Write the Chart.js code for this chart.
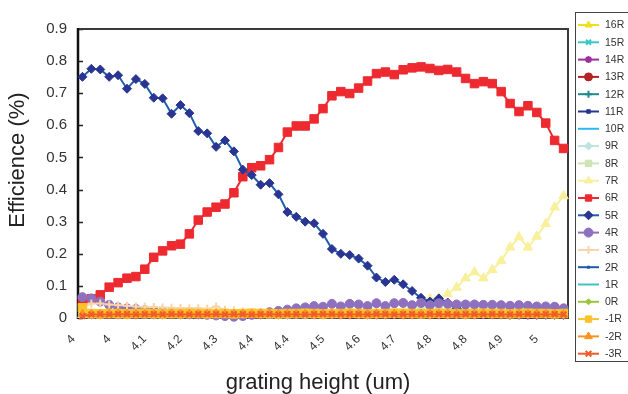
<!DOCTYPE html>
<html>
<head>
<meta charset="utf-8">
<script src="https://cdn.jsdelivr.net/npm/chart.js@4.4.0/dist/chart.umd.min.js"></script>
<style>
  html, body { margin: 0; padding: 0; background: #fff; }
  #wrap { width: 628px; height: 394px; }
</style>
</head>
<body>
<div id="wrap"><canvas id="effChart" width="628" height="394"></canvas></div>
<script>
// grating height sweep (um)
var heights = [3.96, 3.98, 4.00, 4.02, 4.04, 4.06, 4.08, 4.10, 4.12, 4.14,
               4.16, 4.18, 4.20, 4.22, 4.24, 4.26, 4.28, 4.30, 4.32, 4.34,
               4.36, 4.38, 4.40, 4.42, 4.44, 4.46, 4.48, 4.50, 4.52, 4.54,
               4.56, 4.58, 4.60, 4.62, 4.64, 4.66, 4.68, 4.70, 4.72, 4.74,
               4.76, 4.78, 4.80, 4.82, 4.84, 4.86, 4.88, 4.90, 4.92, 4.94,
               4.96, 4.98, 5.00, 5.02, 5.04];

var tickValues = [3.96, 4.04, 4.12, 4.20, 4.28, 4.36, 4.44, 4.52, 4.60, 4.68, 4.76, 4.84, 4.92, 5.00];
var tickLabels = ['4', '4', '4.1', '4.2', '4.3', '4.4', '4.4', '4.5', '4.6', '4.7', '4.8', '4.8', '4.9', '5'];
var yTickValues = [0, 0.1, 0.2, 0.3, 0.4, 0.5, 0.6, 0.7, 0.8, 0.9];
var yTickLabels = ['0', '0.1', '0.2', '0.3', '0.4', '0.5', '0.6', '0.7', '0.8', '0.9'];

var orderNames = ['16R', '15R', '14R', '13R', '12R', '11R', '10R', '9R', '8R', '7R',
                  '6R', '5R', '4R', '3R', '2R', '1R', '0R', '-1R', '-2R', '-3R'];

// diffraction efficiency per order
var r16 = [0.012, 0.011, 0.011, 0.010, 0.011, 0.011, 0.010, 0.011, 0.011, 0.010,
           0.011, 0.011, 0.010, 0.011, 0.011, 0.010, 0.011, 0.011, 0.010, 0.011,
           0.011, 0.010, 0.011, 0.011, 0.010, 0.011, 0.011, 0.010, 0.011, 0.011,
           0.010, 0.011, 0.011, 0.010, 0.011, 0.011, 0.010, 0.011, 0.011, 0.010,
           0.011, 0.011, 0.010, 0.011, 0.011, 0.010, 0.011, 0.011, 0.010, 0.011,
           0.011, 0.010, 0.011, 0.011, 0.010];
var r15 = [0.010, 0.010, 0.011, 0.010, 0.010, 0.010, 0.011, 0.010, 0.010, 0.010,
           0.010, 0.011, 0.010, 0.010, 0.010, 0.010, 0.011, 0.010, 0.010, 0.010,
           0.011, 0.010, 0.010, 0.010, 0.010, 0.011, 0.010, 0.010, 0.010, 0.010,
           0.011, 0.010, 0.010, 0.010, 0.011, 0.010, 0.010, 0.010, 0.010, 0.011,
           0.010, 0.010, 0.010, 0.011, 0.010, 0.010, 0.010, 0.010, 0.011, 0.010,
           0.010, 0.010, 0.011, 0.010, 0.010];
var r14 = [0.010, 0.011, 0.010, 0.010, 0.010, 0.011, 0.010, 0.010, 0.011, 0.010,
           0.010, 0.010, 0.011, 0.010, 0.010, 0.011, 0.010, 0.010, 0.010, 0.011,
           0.010, 0.010, 0.011, 0.010, 0.010, 0.010, 0.011, 0.010, 0.010, 0.011,
           0.010, 0.010, 0.010, 0.011, 0.010, 0.010, 0.011, 0.010, 0.010, 0.010,
           0.011, 0.010, 0.010, 0.011, 0.010, 0.010, 0.010, 0.011, 0.010, 0.010,
           0.011, 0.010, 0.010, 0.010, 0.011];
var r13 = [0.011, 0.010, 0.010, 0.011, 0.010, 0.010, 0.010, 0.011, 0.010, 0.010,
           0.011, 0.010, 0.010, 0.010, 0.011, 0.010, 0.010, 0.011, 0.010, 0.010,
           0.010, 0.011, 0.010, 0.010, 0.011, 0.010, 0.010, 0.010, 0.011, 0.010,
           0.010, 0.011, 0.010, 0.010, 0.010, 0.011, 0.010, 0.010, 0.011, 0.010,
           0.010, 0.010, 0.011, 0.010, 0.010, 0.011, 0.010, 0.010, 0.010, 0.011,
           0.010, 0.010, 0.011, 0.010, 0.010];
var r12 = [0.012, 0.011, 0.011, 0.012, 0.011, 0.011, 0.012, 0.011, 0.011, 0.011,
           0.012, 0.011, 0.011, 0.012, 0.011, 0.011, 0.011, 0.012, 0.011, 0.011,
           0.012, 0.011, 0.011, 0.011, 0.012, 0.011, 0.011, 0.012, 0.011, 0.011,
           0.011, 0.012, 0.011, 0.011, 0.012, 0.011, 0.011, 0.011, 0.012, 0.011,
           0.011, 0.012, 0.011, 0.011, 0.011, 0.012, 0.011, 0.011, 0.012, 0.011,
           0.011, 0.011, 0.012, 0.011, 0.011];
var r11 = [0.012, 0.011, 0.011, 0.012, 0.011, 0.011, 0.011, 0.012, 0.011, 0.011,
           0.012, 0.011, 0.011, 0.011, 0.012, 0.011, 0.011, 0.012, 0.011, 0.011,
           0.011, 0.012, 0.011, 0.011, 0.012, 0.011, 0.011, 0.011, 0.012, 0.011,
           0.011, 0.012, 0.011, 0.011, 0.011, 0.012, 0.011, 0.011, 0.012, 0.011,
           0.011, 0.011, 0.012, 0.011, 0.011, 0.012, 0.011, 0.011, 0.011, 0.012,
           0.011, 0.011, 0.012, 0.011, 0.011];
var r10 = [0.010, 0.010, 0.011, 0.010, 0.010, 0.010, 0.011, 0.010, 0.010, 0.010,
           0.011, 0.010, 0.010, 0.010, 0.011, 0.010, 0.010, 0.010, 0.011, 0.010,
           0.010, 0.010, 0.011, 0.010, 0.010, 0.010, 0.011, 0.010, 0.010, 0.010,
           0.011, 0.010, 0.010, 0.010, 0.011, 0.010, 0.010, 0.010, 0.011, 0.010,
           0.010, 0.010, 0.011, 0.010, 0.010, 0.010, 0.011, 0.010, 0.010, 0.010,
           0.011, 0.010, 0.010, 0.010, 0.011];
var r9 = [0.013, 0.012, 0.012, 0.013, 0.012, 0.012, 0.012, 0.013, 0.012, 0.012,
          0.013, 0.012, 0.012, 0.012, 0.013, 0.012, 0.012, 0.013, 0.012, 0.012,
          0.012, 0.013, 0.012, 0.012, 0.013, 0.012, 0.012, 0.012, 0.013, 0.012,
          0.012, 0.013, 0.012, 0.012, 0.012, 0.013, 0.012, 0.012, 0.013, 0.012,
          0.012, 0.012, 0.013, 0.012, 0.012, 0.013, 0.012, 0.012, 0.012, 0.013,
          0.012, 0.012, 0.013, 0.012, 0.012];
var r8 = [0.012, 0.011, 0.011, 0.012, 0.011, 0.011, 0.012, 0.011, 0.011, 0.011,
          0.012, 0.011, 0.011, 0.012, 0.011, 0.011, 0.011, 0.012, 0.011, 0.011,
          0.012, 0.011, 0.011, 0.011, 0.012, 0.011, 0.012, 0.012, 0.013, 0.013,
          0.014, 0.014, 0.015, 0.016, 0.017, 0.018, 0.019, 0.021, 0.023, 0.024,
          0.025, 0.026, 0.027, 0.028, 0.028, 0.029, 0.029, 0.030, 0.030, 0.029,
          0.029, 0.028, 0.028, 0.027, 0.026];
var r7 = [0.010, 0.011, 0.010, 0.010, 0.011, 0.010, 0.010, 0.010, 0.011, 0.010,
          0.010, 0.011, 0.010, 0.010, 0.010, 0.011, 0.010, 0.010, 0.011, 0.010,
          0.010, 0.010, 0.011, 0.010, 0.011, 0.011, 0.011, 0.011, 0.011, 0.011,
          0.011, 0.011, 0.012, 0.013, 0.016, 0.020, 0.026, 0.034, 0.044, 0.060,
          0.062, 0.075, 0.095, 0.124, 0.143, 0.124, 0.150, 0.178, 0.220, 0.252,
          0.220, 0.254, 0.293, 0.345, 0.380];
var r6 = [0.051, 0.060, 0.072, 0.096, 0.110, 0.124, 0.129, 0.152, 0.189, 0.209,
          0.225, 0.230, 0.262, 0.305, 0.330, 0.345, 0.355, 0.390, 0.440, 0.468,
          0.474, 0.493, 0.531, 0.579, 0.598, 0.598, 0.620, 0.652, 0.692, 0.705,
          0.699, 0.716, 0.738, 0.761, 0.766, 0.758, 0.773, 0.779, 0.782, 0.777,
          0.771, 0.774, 0.766, 0.746, 0.730, 0.736, 0.730, 0.705, 0.668, 0.643,
          0.661, 0.640, 0.607, 0.553, 0.528];
var r5 = [0.751, 0.776, 0.774, 0.751, 0.756, 0.714, 0.744, 0.729, 0.686, 0.684,
          0.636, 0.663, 0.638, 0.582, 0.575, 0.533, 0.553, 0.519, 0.462, 0.445,
          0.415, 0.420, 0.385, 0.330, 0.315, 0.300, 0.295, 0.262, 0.215, 0.200,
          0.196, 0.185, 0.163, 0.126, 0.112, 0.119, 0.105, 0.084, 0.063, 0.051,
          0.061, 0.048, 0.030, 0.020, 0.015, 0.012, 0.011, 0.011, 0.010, 0.010,
          0.010, 0.010, 0.010, 0.010, 0.010];
var r4 = [0.065, 0.061, 0.051, 0.041, 0.033, 0.030, 0.028, 0.024, 0.022, 0.020,
          0.018, 0.016, 0.014, 0.012, 0.010, 0.008, 0.006, 0.004, 0.006, 0.010,
          0.014, 0.018, 0.022, 0.026, 0.030, 0.033, 0.037, 0.035, 0.044, 0.036,
          0.044, 0.042, 0.037, 0.046, 0.037, 0.046, 0.047, 0.040, 0.047, 0.040,
          0.046, 0.044, 0.042, 0.042, 0.042, 0.041, 0.041, 0.040, 0.038, 0.040,
          0.038, 0.036, 0.036, 0.035, 0.030];
var r3 = [0.030, 0.045, 0.045, 0.042, 0.040, 0.038, 0.036, 0.035, 0.034, 0.033,
          0.032, 0.031, 0.030, 0.030, 0.029, 0.036, 0.026, 0.024, 0.020, 0.017,
          0.015, 0.013, 0.012, 0.011, 0.011, 0.011, 0.011, 0.011, 0.011, 0.011,
          0.011, 0.011, 0.011, 0.011, 0.011, 0.011, 0.011, 0.011, 0.011, 0.011,
          0.011, 0.011, 0.011, 0.011, 0.011, 0.011, 0.011, 0.011, 0.011, 0.011,
          0.011, 0.011, 0.011, 0.011, 0.011];
var r2 = [0.012, 0.012, 0.012, 0.013, 0.013, 0.013, 0.013, 0.013, 0.013, 0.014,
          0.014, 0.014, 0.014, 0.014, 0.015, 0.015, 0.015, 0.016, 0.016, 0.016,
          0.016, 0.017, 0.017, 0.017, 0.018, 0.018, 0.018, 0.019, 0.019, 0.019,
          0.020, 0.020, 0.020, 0.020, 0.019, 0.019, 0.019, 0.018, 0.018, 0.017,
          0.017, 0.016, 0.016, 0.015, 0.015, 0.014, 0.014, 0.013, 0.013, 0.013,
          0.012, 0.012, 0.012, 0.012, 0.012];
var r1 = [0.011, 0.011, 0.012, 0.011, 0.011, 0.011, 0.012, 0.011, 0.011, 0.011,
          0.012, 0.011, 0.011, 0.011, 0.012, 0.011, 0.011, 0.011, 0.012, 0.011,
          0.011, 0.011, 0.012, 0.011, 0.011, 0.011, 0.012, 0.011, 0.011, 0.011,
          0.012, 0.011, 0.011, 0.011, 0.012, 0.011, 0.011, 0.011, 0.012, 0.011,
          0.011, 0.011, 0.012, 0.011, 0.011, 0.011, 0.012, 0.011, 0.011, 0.011,
          0.012, 0.011, 0.011, 0.011, 0.012];
var r0 = [0.011, 0.011, 0.012, 0.011, 0.011, 0.011, 0.012, 0.011, 0.011, 0.012,
          0.011, 0.011, 0.011, 0.012, 0.011, 0.011, 0.012, 0.011, 0.011, 0.011,
          0.012, 0.011, 0.011, 0.012, 0.011, 0.011, 0.011, 0.012, 0.011, 0.011,
          0.012, 0.011, 0.011, 0.011, 0.012, 0.011, 0.011, 0.012, 0.011, 0.011,
          0.011, 0.012, 0.011, 0.011, 0.012, 0.011, 0.011, 0.011, 0.012, 0.011,
          0.011, 0.012, 0.011, 0.011, 0.011];
var rm1 = [0.032, 0.014, 0.013, 0.014, 0.014, 0.013, 0.014, 0.015, 0.014, 0.013,
           0.014, 0.014, 0.015, 0.014, 0.013, 0.014, 0.014, 0.013, 0.014, 0.015,
           0.014, 0.014, 0.013, 0.014, 0.014, 0.015, 0.014, 0.013, 0.014, 0.014,
           0.015, 0.014, 0.013, 0.014, 0.014, 0.015, 0.014, 0.014, 0.013, 0.014,
           0.015, 0.014, 0.014, 0.013, 0.014, 0.015, 0.014, 0.014, 0.013, 0.014,
           0.015, 0.014, 0.014, 0.013, 0.014];
var rm2 = [0.012, 0.012, 0.011, 0.012, 0.013, 0.012, 0.012, 0.011, 0.012, 0.012,
           0.013, 0.012, 0.012, 0.011, 0.012, 0.013, 0.012, 0.012, 0.012, 0.011,
           0.012, 0.013, 0.012, 0.012, 0.011, 0.012, 0.012, 0.013, 0.012, 0.012,
           0.011, 0.012, 0.012, 0.013, 0.012, 0.012, 0.011, 0.012, 0.012, 0.013,
           0.012, 0.012, 0.011, 0.012, 0.012, 0.013, 0.012, 0.012, 0.011, 0.012,
           0.012, 0.013, 0.012, 0.012, 0.011];
var rm3 = [0.006, 0.011, 0.012, 0.011, 0.012, 0.012, 0.011, 0.012, 0.012, 0.011,
           0.012, 0.012, 0.011, 0.012, 0.012, 0.012, 0.011, 0.012, 0.012, 0.011,
           0.012, 0.012, 0.011, 0.012, 0.012, 0.011, 0.012, 0.012, 0.012, 0.011,
           0.012, 0.012, 0.011, 0.012, 0.012, 0.011, 0.012, 0.012, 0.011, 0.012,
           0.012, 0.012, 0.011, 0.012, 0.012, 0.011, 0.012, 0.012, 0.011, 0.012,
           0.012, 0.011, 0.012, 0.012, 0.011];

var orderValues = [r16, r15, r14, r13, r12, r11, r10, r9, r8, r7,
                   r6, r5, r4, r3, r2, r1, r0, rm1, rm2, rm3];

// line colour, marker colour, marker shape, marker radius, line width
var orderStyles = [
    ['#efe01f', '#efe01f', 'triangle', 4, 1.5],
    ['#3cc6c6', '#3cc6c6', 'crossRot', 3.5, 1.5],
    ['#9b2f9b', '#9b2f9b', 'star', 3.5, 1.5],
    ['#b22323', '#b22323', 'circle', 4, 1.5],
    ['#1f8a8a', '#1f8a8a', 'cross', 3.5, 1.5],
    ['#283593', '#283593', 'rect', 2.5, 1.5],
    ['#2cb8f0', '#2cb8f0', 'circle', 0, 1.5],
    ['#bfe3e0', '#bfe3e0', 'rectRot', 4, 1.5],
    ['#cde4b4', '#cde4b4', 'rect', 5, 1.5],
    ['#f8f09c', '#f8f09c', 'triangle', 5.5, 2],
    ['#ed2a30', '#ed2a30', 'rect', 6, 2],
    ['#1f5fae', '#2a3592', 'rectRot', 4.5, 2],
    ['#8f70bf', '#8f70bf', 'circle', 4.5, 1.5],
    ['#f9d4a8', '#f9d4a8', 'cross', 4, 1.5],
    ['#1e5aa8', '#1e5aa8', 'rect', 1.5, 2],
    ['#40c2c2', '#40c2c2', 'circle', 0, 1.5],
    ['#9cc43c', '#9cc43c', 'rectRot', 3, 1.5],
    ['#fbc22c', '#fbc22c', 'rect', 6, 1.5],
    ['#f7931e', '#f7931e', 'triangle', 5, 1.5],
    ['#f15a2b', '#f15a2b', 'crossRot', 4, 1.5]
];

var FONT = '"Liberation Sans", Arial, Helvetica, sans-serif';

var effDatasets = orderNames.map(function(name, i) {
    var st = orderStyles[i];
    return {
        label: name,
        data: orderValues[i],
        borderColor: st[0],
        backgroundColor: st[1],
        borderWidth: st[4],
        pointStyle: st[2],
        pointRadius: st[3],
        pointBackgroundColor: st[1],
        pointBorderColor: st[1],
        pointBorderWidth: (st[2] === 'cross' || st[2] === 'crossRot' || st[2] === 'star') ? 2 : 1,
        tension: 0,
        fill: false,
        clip: false,
        // later orders sit on top
        order: orderNames.length - i
    };
});

// plot box with inward y ticks
var axisFrame = {
    id: 'axisFrame',
    beforeDatasetsDraw: function(chart) {
        var ctx = chart.ctx, a = chart.chartArea, y = chart.scales.y, x = chart.scales.x;
        ctx.save();
        ctx.strokeStyle = '#222';
        ctx.lineWidth = 1.5;
        ctx.beginPath();
        yTickValues.forEach(function(v) {
            var py = Math.round(y.getPixelForValue(v)) + 0.5;
            ctx.moveTo(a.left, py);
            ctx.lineTo(a.left + 5, py);
        });
        tickValues.forEach(function(v) {
            var px = Math.round(x.getPixelForValue(v)) + 0.5;
            ctx.moveTo(px, a.bottom);
            ctx.lineTo(px, a.bottom - 5);
        });
        ctx.stroke();
        ctx.strokeStyle = '#3a3a3a';
        ctx.lineWidth = 2;
        ctx.strokeRect(a.left, a.top, a.right - a.left, a.bottom - a.top);
        ctx.strokeStyle = '#111';
        ctx.lineWidth = 2.5;
        ctx.beginPath();
        ctx.moveTo(a.left, a.top - 1);
        ctx.lineTo(a.left, a.bottom + 1);
        ctx.stroke();
        ctx.restore();
    }
};

// axis titles and the order legend on the right
var sideLegend = {
    id: 'sideLegend',
    afterDraw: function(chart) {
        var ctx = chart.ctx;
        ctx.save();
        ctx.fillStyle = '#222';
        ctx.font = '22px ' + FONT;
        ctx.textAlign = 'center';
        ctx.textBaseline = 'middle';
        ctx.save();
        ctx.translate(18, 160);
        ctx.rotate(-Math.PI / 2);
        ctx.fillText('Efficience (%)', 0, 0);
        ctx.restore();
        ctx.font = '22px ' + FONT;
        ctx.textBaseline = 'alphabetic';
        ctx.fillText('grating height (um)', 318, 389);

        ctx.fillStyle = '#fff';
        ctx.fillRect(575, 12, 60, 350);
        ctx.strokeStyle = '#444';
        ctx.lineWidth = 1;
        ctx.strokeRect(575.5, 12.5, 70, 349);
        ctx.font = '10.5px ' + FONT;
        ctx.textAlign = 'left';
        ctx.textBaseline = 'middle';
        chart.data.datasets.forEach(function(ds, i) {
            var yy = 25 + i * 17.3;
            ctx.strokeStyle = ds.borderColor;
            ctx.lineWidth = 2;
            ctx.beginPath();
            ctx.moveTo(578, yy);
            ctx.lineTo(599, yy);
            ctx.stroke();
            if (ds.pointRadius > 0 && Chart.helpers && Chart.helpers.drawPoint) {
                ctx.fillStyle = ds.pointBackgroundColor;
                ctx.strokeStyle = ds.pointBorderColor;
                ctx.lineWidth = ds.pointBorderWidth;
                Chart.helpers.drawPoint(ctx, {
                    pointStyle: ds.pointStyle,
                    radius: Math.min(ds.pointRadius, 4.5),
                    borderWidth: ds.pointBorderWidth,
                    rotation: 0
                }, 588.5, yy);
            }
            ctx.fillStyle = '#333';
            ctx.fillText(ds.label, 605, yy + 0.5);
        });
        ctx.restore();
    }
};

var effCtx = document.getElementById('effChart').getContext('2d');
var effChart = new Chart(effCtx, {
    type: 'line',
    data: {
        labels: heights,
        datasets: effDatasets
    },
    options: {
        responsive: false,
        animation: false,
        devicePixelRatio: 1,
        layout: { padding: { top: 29, right: 60, left: 0, bottom: 0 } },
        plugins: {
            legend: { display: false },
            tooltip: { enabled: false }
        },
        scales: {
            x: {
                type: 'linear',
                min: 3.95,
                max: 5.05,
                grid: { display: false, drawTicks: false },
                border: { display: false },
                afterBuildTicks: function(scale) {
                    scale.ticks = tickValues.map(function(v) { return { value: v }; });
                },
                afterFit: function(scale) { scale.height = 76; },
                ticks: {
                    autoSkip: false,
                    minRotation: 45,
                    maxRotation: 45,
                    padding: 14,
                    labelOffset: -9,
                    color: '#333',
                    font: { family: FONT, size: 12 },
                    callback: function(v, idx) { return tickLabels[idx]; }
                }
            },
            y: {
                min: 0,
                max: 0.9,
                grid: { display: false, drawTicks: false },
                border: { display: false },
                afterBuildTicks: function(scale) {
                    scale.ticks = yTickValues.map(function(v) { return { value: v }; });
                },
                afterFit: function(scale) { scale.width = 78; },
                ticks: {
                    padding: 11,
                    color: '#333',
                    font: { family: FONT, size: 15 },
                    callback: function(v, idx) { return yTickLabels[idx]; }
                }
            }
        }
    },
    plugins: [axisFrame, sideLegend]
});
</script>
</body>
</html>
